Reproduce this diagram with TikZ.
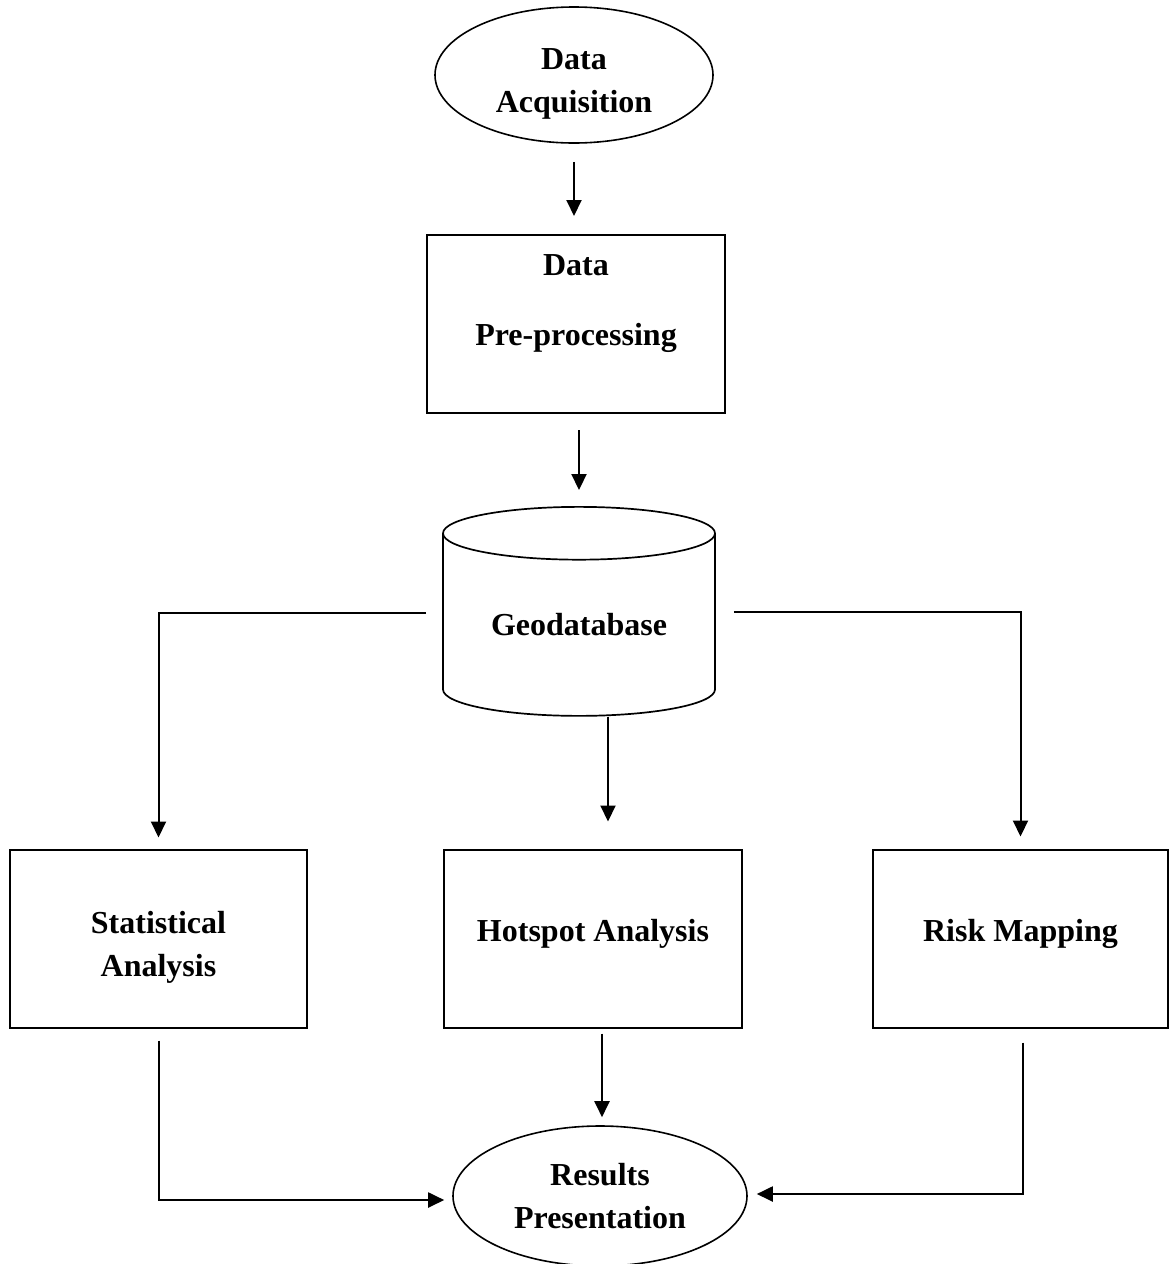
\documentclass[tikz,border=0pt]{standalone}
\usepackage{fontspec}
\setmainfont{Liberation Serif}
\usetikzlibrary{arrows.meta,shapes.geometric}
\tikzset{>/.tip={Triangle[width=15pt,length=16pt]}}
\tikzset{
  box/.style={draw,line width=2pt,minimum width=298pt,minimum height=178pt,inner sep=0pt,align=center},
  oval/.style={draw,ellipse,line width=1.6pt,inner sep=0pt,align=center},
  db/.style={draw,cylinder,shape border rotate=90,aspect=0.3,line width=1.7pt,minimum width=272pt,minimum height=209pt,inner sep=0pt},
  flow/.style={->,line width=2pt}
}
\newcommand{\boxfont}{\fontsize{32}{43}\selectfont\bfseries}

\begin{document}
\begin{tikzpicture}[x=1pt,y=-1pt,font=\boxfont]
\useasboundingbox (0,0) rectangle (1168,1264);
\node[oval,minimum width=278pt,minimum height=136pt] (acq) at (574,75) {\rule{0pt}{38pt}Data\\Acquisition};
\node[box] (pre) at (576,324) {Data\\[27pt]Pre-processing\\[4pt]\mbox{}};
\node[db] (geo) at (579,625) {Geodatabase};

\node[box,minimum width=297pt] (stat) at (158.5,938.5) {\rule{0pt}{40pt}Statistical\\Analysis};
\node[box,text height=22pt,text depth=17pt] (hot) at (593,938.5) {Hotspot Analysis};
\node[box,minimum width=295pt,text height=22pt,text depth=17pt] (risk) at (1020.5,938.5) {Risk Mapping};
\node[oval,minimum width=294pt,minimum height=140pt] (res) at (600,1196) {Results\\Presentation};

\path[flow,shorten <=18pt,shorten >=18pt] (acq.south) edge (acq.south |- pre.north);
\path[flow,shorten <=16pt,shorten >=16pt] (geo.90 |- pre.south) edge (geo.90);

\draw[flow,shorten <=16pt,shorten >=11pt] ([yshift=12pt]geo.180) -| (stat.north);
\draw[flow,shorten >=27pt] ([xshift=29pt]geo.270) -- ([xshift=29pt]geo.270 |- hot.north);
\draw[flow,shorten <=18pt,shorten >=12pt] ([yshift=13pt]geo.0) -| (risk.north);

\draw[flow,shorten <=12pt,shorten >=8pt] (stat.south) |- ([yshift=-4pt]res.west);
\draw[flow,shorten <=5pt,shorten >=8pt] ([xshift=2pt]res.north |- hot.south) -- ([xshift=2pt]res.north);
\draw[flow,shorten <=14pt,shorten >=9pt] ([xshift=2.5pt]risk.south) |- ([yshift=2pt]res.east);
\end{tikzpicture}
\end{document}
